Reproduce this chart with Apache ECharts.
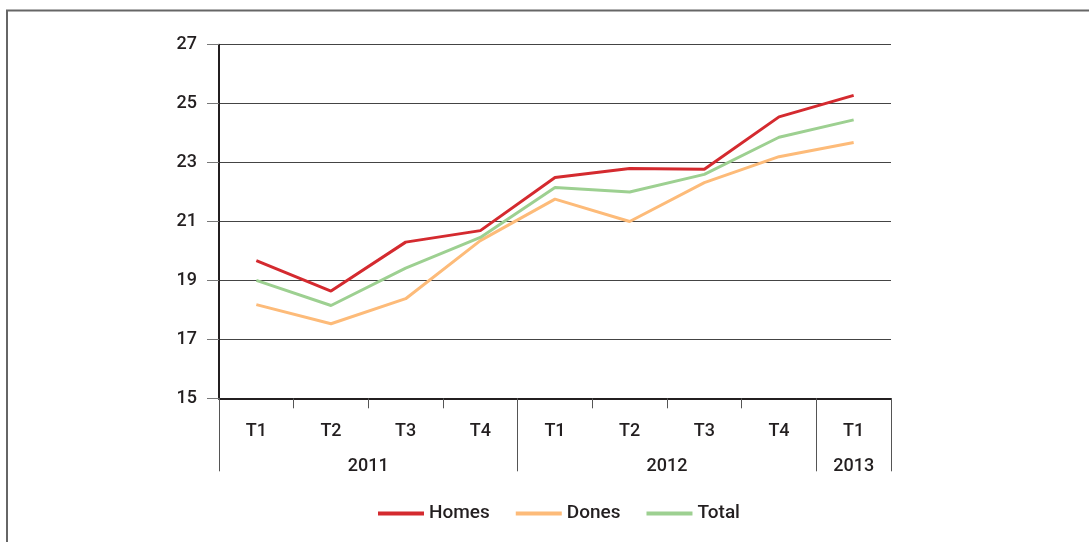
<!DOCTYPE html>
<html>
<head>
<meta charset="utf-8">
<script src="https://cdn.jsdelivr.net/npm/echarts@6/dist/echarts.min.js"></script>
<style>
  html, body { margin: 0; padding: 0; background: #fff; }
  #chart { width: 1089px; height: 542px; }
</style>
</head>
<body>
<div id="chart"></div>
<script>
// quarters and years
var quarters = ['T1', 'T2', 'T3', 'T4', 'T1', 'T2', 'T3', 'T4', 'T1'];
var years = ['2011', '2012', '2013'];
var yearBounds = [0, 4, 8, 9];      // where each year starts / ends (in quarters)
var yearCenters = [2, 6, 8.5];

var homes = [19.67, 18.64, 20.3, 20.69, 22.49, 22.8, 22.77, 24.55, 25.28];
var dones = [18.18, 17.53, 18.38, 20.35, 21.76, 21.0, 22.32, 23.2, 23.68];
var total = [19.0, 18.15, 19.42, 20.46, 22.15, 22.0, 22.6, 23.86, 24.45];

var font = 'Roboto';
var textColor = '#231f20';

var chart = echarts.init(document.getElementById('chart'));

function line(name, data, color) {
    return {
        name: name,
        type: 'line',
        data: data,
        symbol: 'none',
        smooth: false,
        lineStyle: { color: color, width: 3 },
        itemStyle: { color: color },
        animation: false
    };
}

chart.setOption({
    animation: false,
    graphic: [{
        type: 'rect',
        shape: { x: 7, y: 10.5, width: 1200, height: 700 },
        style: { fill: 'none', stroke: '#666', lineWidth: 2 },
        silent: true
    }],
    grid: { left: 219, right: 198, top: 44.7, bottom: 143.7 },
    legend: {
        bottom: 14,
        left: 373,
        itemWidth: 46,
        itemHeight: 4,
        itemGap: 26,
        icon: 'rect',
        textStyle: { fontFamily: font, fontSize: 19, fontWeight: 500, color: textColor },
        data: ['Homes', 'Dones', 'Total']
    },
    xAxis: [{
        type: 'category',
        data: quarters,
        boundaryGap: true,
        axisLine: { lineStyle: { color: '#231f20', width: 2 } },
        axisTick: { show: true, interval: 0, length: 10, lineStyle: { color: '#555', width: 1 } },
        axisLabel: { interval: 0, margin: 24, fontFamily: font, fontSize: 18, fontWeight: 500, color: textColor }
    }, {
        type: 'value',
        position: 'bottom',
        min: 0,
        max: 9,
        splitLine: { show: false },
        axisLine: { show: false },
        axisTick: {
            show: true,
            customValues: yearBounds,
            length: 73,
            lineStyle: { color: '#555', width: 1 }
        },
        axisLabel: {
            customValues: yearCenters,
            margin: 59,
            fontFamily: font,
            fontSize: 18,
            fontWeight: 500,
            color: textColor,
            formatter: function (v) {
                return years[yearCenters.indexOf(v)];
            }
        }
    }],
    yAxis: {
        type: 'value',
        min: 15,
        max: 27,
        interval: 2,
        axisLine: { show: true, lineStyle: { color: '#231f20', width: 2 } },
        axisTick: { show: true, length: 12, lineStyle: { color: '#777', width: 1 } },
        axisLabel: { margin: 22, fontFamily: font, fontSize: 18, fontWeight: 500, color: textColor },
        splitLine: { lineStyle: { color: '#444', width: 1 } }
    },
    series: [
        line('Homes', homes, '#d42a2f'),
        line('Dones', dones, '#fdbb79'),
        line('Total', total, '#9dd091')
    ]
});
</script>
</body>
</html>
